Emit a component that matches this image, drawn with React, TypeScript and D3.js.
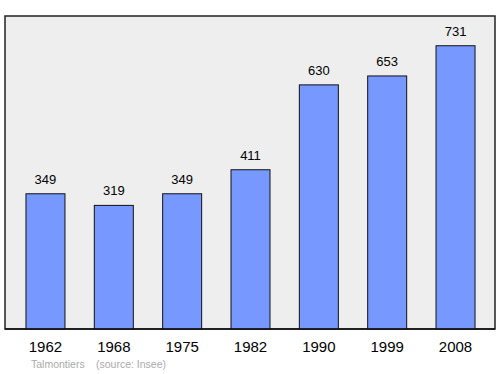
import React from "react";
import * as d3 from "d3";

const years = ["1962", "1968", "1975", "1982", "1990", "1999", "2008"];
const population = [349, 319, 349, 411, 630, 653, 731];
const townName = "Talmontiers";
const sourceLabel = "(source: Insee)";

export default function App() {
  const W = 500, H = 374;
  const frame = { x0: 5, y0: 16, x1: 495, y1: 329 };
  const x = d3.scaleBand<string>().domain(years).range([11.3, 489.7]).padding(0);
  const y = d3.scaleLinear().domain([0, 800]).range([329, 19]);
  const barW = 39;
  const font = "'Liberation Sans', Arial, sans-serif";
  return (
    <svg width={W} height={H} style={{ position: "absolute", left: 0, top: 0 }} fontFamily={font}>
      <rect x={0} y={0} width={W} height={H} fill="#ffffff" />
      <rect x={frame.x0} y={frame.y0} width={frame.x1 - frame.x0} height={frame.y1 - frame.y0}
        fill="#eeeeee" stroke="#222" strokeWidth={1.5} />
      {years.map((yr, i) => {
        const cx = (x(yr) as number) + x.bandwidth() / 2;
        const v = population[i];
        return (
          <g key={yr}>
            <rect x={cx - barW / 2} y={y(v)} width={barW} height={y(0) - y(v)}
              fill="#7799ff" stroke="#111" strokeWidth={1} />
            <text x={cx} y={y(v) - 10} textAnchor="middle" fontSize={13} fill="#000">{v}</text>
            <text x={cx} y={352} textAnchor="middle" fontSize={15} fill="#000">{yr}</text>
          </g>
        );
      })}
      <line x1={frame.x0} x2={frame.x1} y1={frame.y1} y2={frame.y1} stroke="#111" strokeWidth={1.5} />
      <text x={31} y={368} fontSize={10.5} fill="#aaaaaa">{townName}</text>
      <text x={96} y={368} fontSize={10.5} fill="#aaaaaa">{sourceLabel}</text>
    </svg>
  );
}
